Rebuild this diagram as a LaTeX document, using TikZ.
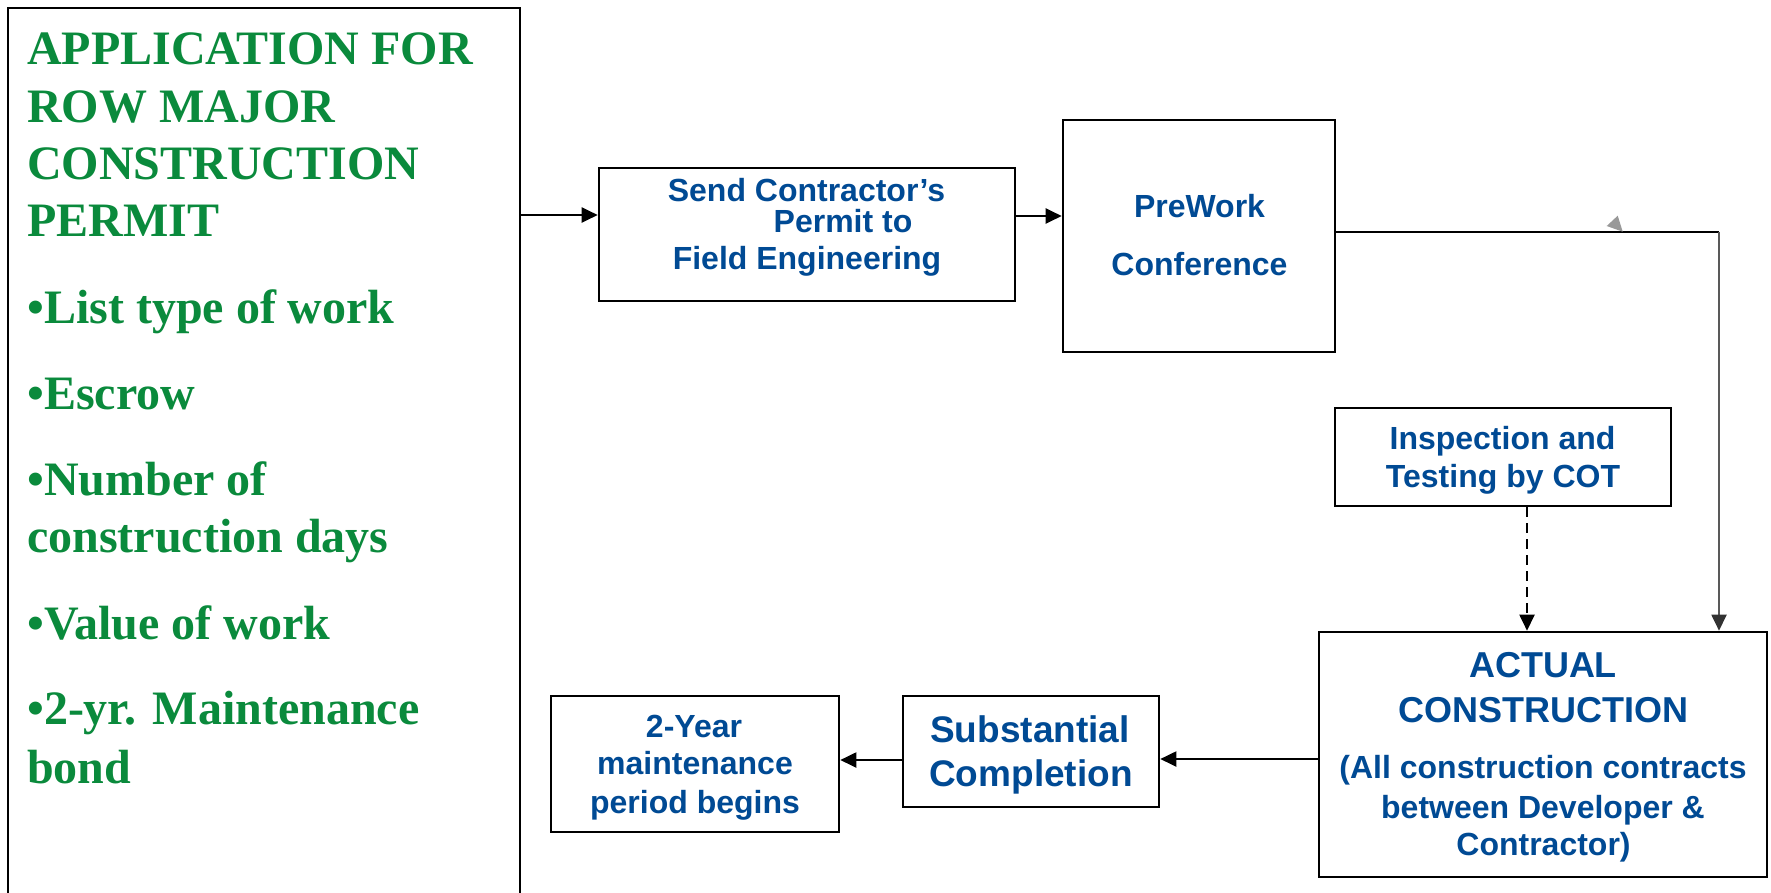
\documentclass[tikz,border=0pt]{standalone}
\usepackage{fontspec}
\setmainfont{Liberation Serif}
\newfontfamily\arialfont{Liberation Sans}
\usetikzlibrary{arrows.meta}
\definecolor{grn}{RGB}{10,138,60}
\definecolor{blu}{RGB}{0,74,148}
\definecolor{tri}{gray}{0.6}
\definecolor{dk}{gray}{0.2}
\definecolor{vline}{gray}{0.35}
\tikzset{
  box/.style={draw=black, line width=2.6pt, rectangle, inner sep=0pt, fill=white},
  gl/.style={inner sep=0pt, anchor=base west, text=grn, font=\fontsize{48}{57}\selectfont\bfseries},
  bl/.style={inner sep=0pt, anchor=base, text=blu, font=\arialfont\fontsize{32}{38}\selectfont\bfseries},
  blbig/.style={bl, font=\arialfont\fontsize{36}{42}\selectfont\bfseries},
  blsub/.style={bl, font=\arialfont\fontsize{37}{44}\selectfont\bfseries},
  arr/.style={line width=2pt, -{Triangle[length=16pt,width=15pt]}},
}
\begin{document}
\begin{tikzpicture}[x=1pt,y=-1pt]
\useasboundingbox (0,0) rectangle (1771,892);
\fill[white] (0,0) rectangle (1771,892);
\clip (0,0) rectangle (1771,892);

% boxes
\node[box, minimum width=512pt, minimum height=992pt] (app) at (264,504) {};
\node[box, minimum width=416pt, minimum height=133pt] (send) at (807,234.5) {};
\node[box, minimum width=272pt, minimum height=232pt] (prework) at (1199,236) {};
\node[box, minimum width=336pt, minimum height=98pt] (insp) at (1503,457) {};
\node[box, minimum width=448pt, minimum height=245pt] (actual) at (1543,754.5) {};
\node[box, minimum width=256pt, minimum height=111pt] (sub) at (1031,751.5) {};
\node[box, minimum width=288pt, minimum height=136pt] (twoyr) at (695,764) {};

% left text
\node[gl] (a1) at (27,64) {APPLICATION FOR};
\node[gl] (a2) at (27,122) {ROW MAJOR};
\node[gl] (a3) at (27,179) {CONSTRUCTION};
\node[gl] (a4) at (27,236) {PERMIT};
\node[gl] (a5) at (27,323) {•List type of work};
\node[gl] (a6) at (27,409) {•Escrow};
\node[gl] (a7) at (27,495) {•Number of};
\node[gl] (a8) at (27,552) {construction days};
\node[gl] (a9) at (27,639) {•Value of work};
\node[gl] (a10) at (27,724) {•2-yr. Maintenance};
\node[gl] (a11) at (27,783) {bond};

% blue texts
\node[bl] (s1) at (806.5,201) {Send Contractor’s};
\node[bl] (s2) at (843,232) {Permit to};
\node[bl] (s3) at (807,269) {Field Engineering};
\node[bl] (p1) at (1199.5,217) {PreWork};
\node[bl] (p2) at (1199.5,275) {Conference};
\node[bl] (i1) at (1502.5,449) {Inspection and};
\node[bl] (i2) at (1503,487) {Testing by COT};
\node[blbig] (c1) at (1543,677) {ACTUAL};
\node[blbig] (c2) at (1543,722) {CONSTRUCTION};
\node[bl] (c3) at (1543,778) {(All construction contracts};
\node[bl] (c4) at (1543,818) {between Developer \&};
\node[bl] (c5) at (1543.5,855) {Contractor)};
\node[blsub] (u1) at (1030,742) {Substantial};
\node[blsub] (u2) at (1031,786) {Completion};
\node[bl] (y1) at (694,737) {2-Year};
\node[bl] (y2) at (695,774) {maintenance};
\node[bl] (y3) at (695,813) {period begins};

% connectors
\draw[arr] ([yshift=19.5pt]send.west -| app.east) -- ([yshift=19.5pt]send.west);
\draw[arr] ([yshift=18.5pt]send.east) -- ([yshift=18.5pt]send.east -| prework.west);
\coordinate (corner) at ([yshift=4pt]prework.east -| 1719,0);
\draw[line width=2pt, black] ([yshift=4pt]prework.east) -- (corner);
\draw[line width=2pt, draw=vline, -{Triangle[length=16pt,width=15pt,color=dk,fill=dk]}] (corner) -- (corner |- actual.north);
\draw[arr, dash pattern=on 10pt off 6pt] ([xshift=24pt]insp.south) -- ([xshift=24pt]insp.south |- actual.north);
\draw[arr] ([yshift=-4.5pt]actual.west) -- ([yshift=-4.5pt]actual.west -| sub.east);
\draw[arr] ([yshift=-8.5pt]sub.west) -- ([yshift=-8.5pt]sub.west -| twoyr.east);

% small gray mark
\fill[tri] (1617.7,215.7) -- (1606.7,226) -- (1622.7,231.7) -- cycle;
\end{tikzpicture}
\end{document}
